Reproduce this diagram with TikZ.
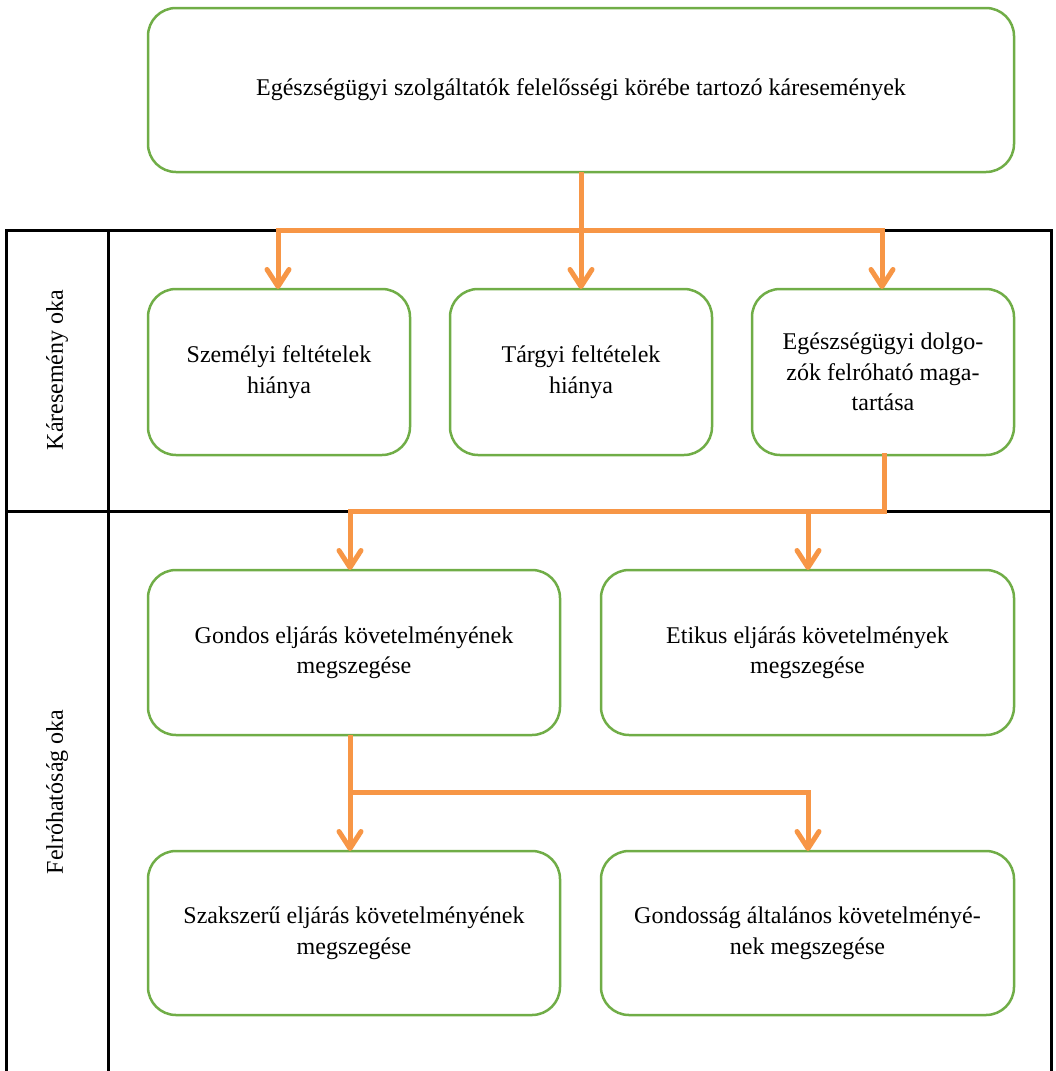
\documentclass[tikz,border=0pt]{standalone}
\usepackage{fontspec}
\setmainfont{Liberation Serif}
\usetikzlibrary{arrows.meta}
\definecolor{boxgreen}{HTML}{70AD47}
\definecolor{arrorange}{HTML}{F79646}
\begin{document}
\begin{tikzpicture}[x=1pt,y=-1pt,
  box/.style={draw=boxgreen,line width=2.5pt,rounded corners=28pt,align=center,
    inner sep=0pt,outer sep=0pt,font=\fontsize{24}{30.5}\selectfont},
  conn/.style={draw=arrorange,line width=5pt},
  arr/.style={conn,-{Straight Barb[length=17pt,width=22pt,line width=5pt,round]}},
  tab/.style={draw=black,line width=3pt}]
\useasboundingbox (0,0) rectangle (1056,1071);
\begin{scope}
\clip (0,0) rectangle (1056,1071);
% table
\draw[tab] (6,1090) -- (6,230) -- (1051,230) -- (1051,1090);
\draw[tab] (108,230) -- (108,1090);
\draw[tab] (6,511) -- (1051,511);
\end{scope}
\node[rotate=90,font=\fontsize{24}{28}\selectfont] (lab1) at (57,370) {Káresemény oka};
\node[rotate=90,font=\fontsize{24}{28}\selectfont] (lab2) at (57,792) {Felróhatóság oka};
% boxes
\node[box,minimum width=866pt,minimum height=164pt] (top) at (581,90)
  {Egészségügyi szolgáltatók felelősségi körébe tartozó káresemények};
\node[box,minimum width=262pt,minimum height=166pt] (b1) at (279,372)
  {Személyi feltételek\\hiánya};
\node[box,minimum width=262pt,minimum height=166pt] (b2) at (581,372)
  {Tárgyi feltételek\\hiánya};
\node[box,minimum width=262pt,minimum height=166pt] (b3) at (883,372)
  {Egészségügyi dolgo-\\zók felróható maga-\\tartása};
\node[box,minimum width=412pt,minimum height=165pt] (b4) at (354,652.5)
  {Gondos eljárás követelményének\\megszegése};
\node[box,minimum width=413pt,minimum height=165pt] (b5) at (807.5,652.5)
  {Etikus eljárás követelmények\\megszegése};
\node[box,minimum width=412pt,minimum height=164pt] (b6) at (354,933)
  {Szakszerű eljárás követelményének\\megszegése};
\node[box,minimum width=413pt,minimum height=164pt] (b7) at (807.5,933)
  {Gondosság általános követelményé-\\nek megszegése};
% connectors
\coordinate (j1) at (581,230);
\coordinate (j1l) at (278,230);
\coordinate (j1r) at (882,230);
\draw[conn] (top.south) -- (j1);
\draw[conn,line cap=rect] (j1l) -- (j1r);
\draw[arr] (j1l) -- (j1l |- b1.north);
\draw[arr] (j1) -- (b2.north);
\draw[arr] (j1r) -- (j1r |- b3.north);
\coordinate (j2) at (884,511);
\coordinate (j2l) at (350,511);
\coordinate (j2r) at (808,511);
\draw[conn,line cap=rect] (b3.south -| j2) -- (j2) -- (j2l);
\draw[arr] (j2l) -- (j2l |- b4.north);
\draw[arr] (j2r) -- (j2r |- b5.north);
\coordinate (s4) at (350,735);
\coordinate (j3) at (350,792);
\coordinate (j3r) at (808,792);
\draw[arr] (s4) -- (s4 |- b6.north);
\draw[conn,line cap=rect] (j3) -- (j3r);
\draw[arr] (j3r) -- (j3r |- b7.north);
\end{tikzpicture}
\end{document}
